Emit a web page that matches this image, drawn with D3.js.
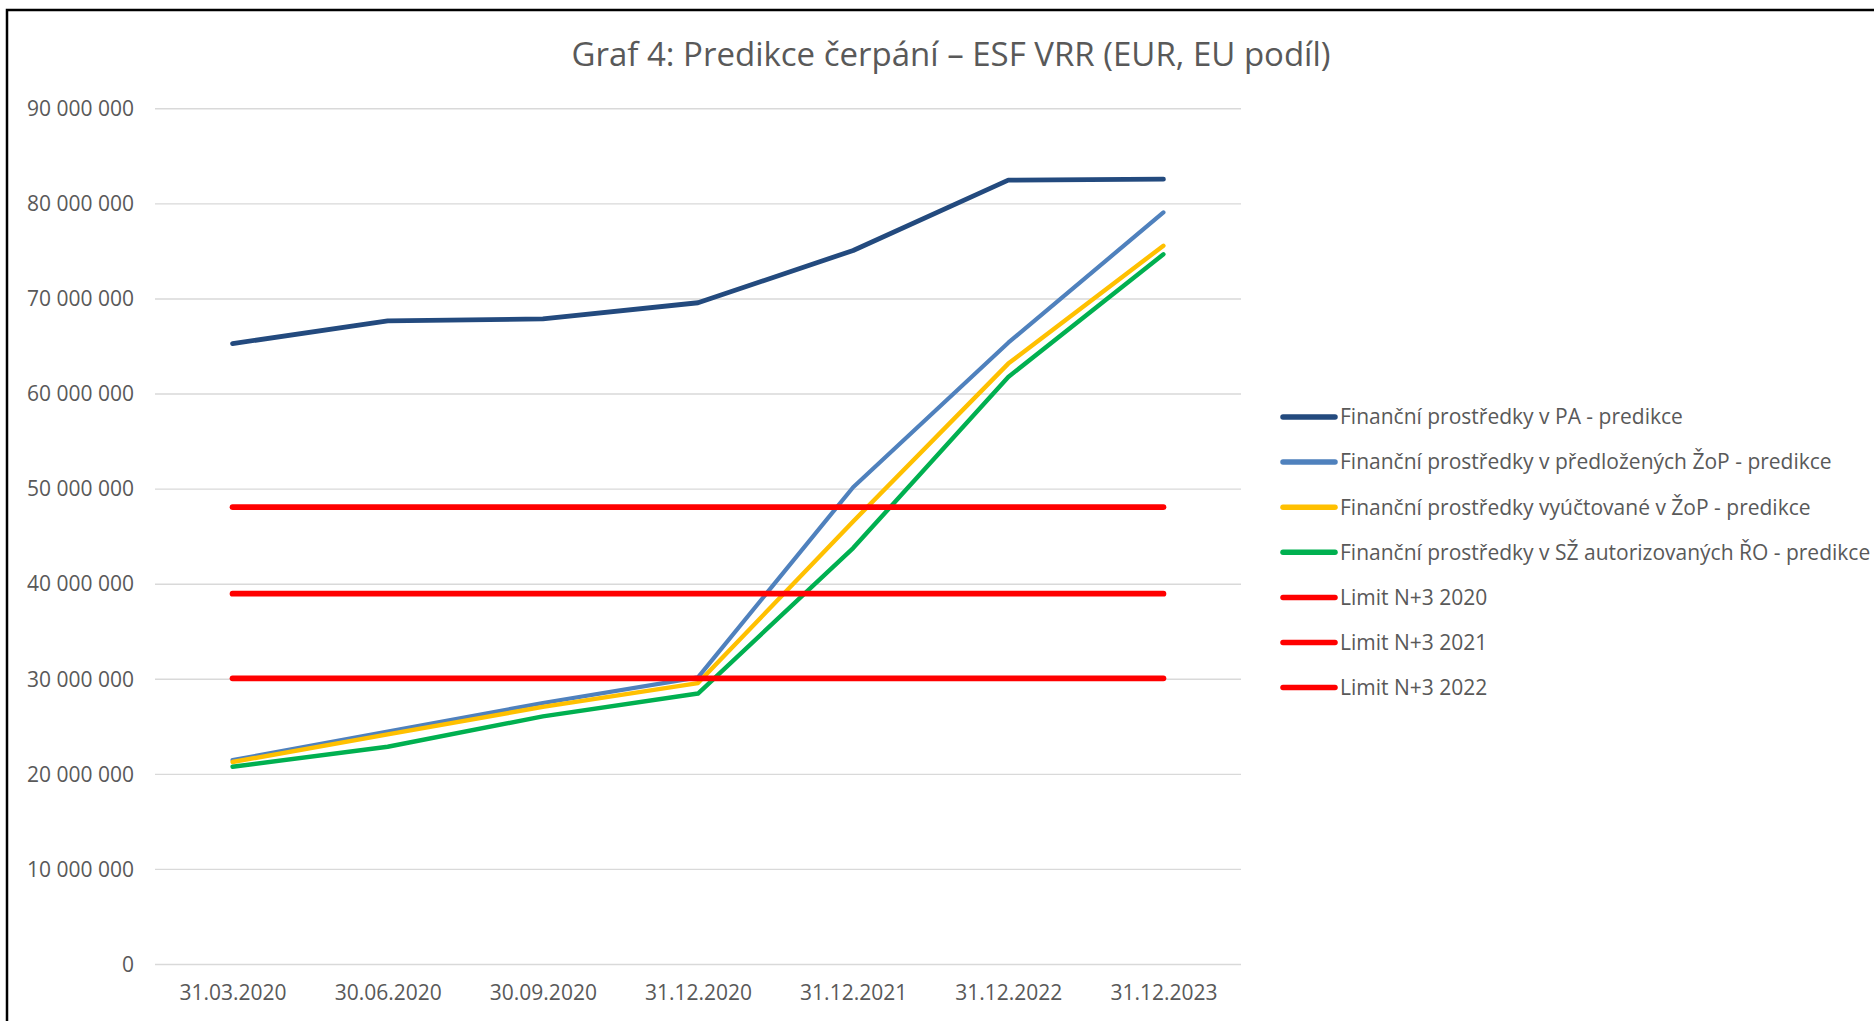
<!DOCTYPE html>
<html>
<head>
<meta charset="utf-8">
<script src="https://cdn.jsdelivr.net/npm/d3@7"></script>
<style>
  body { margin: 0; background: #fff; }
  svg { display: block; font-family: "Open Sans", "Noto Sans", sans-serif; }
</style>
</head>
<body>
<div id="visual-container"></div>
<script>
// data
const dates = ['31.03.2020', '30.06.2020', '30.09.2020', '31.12.2020', '31.12.2021', '31.12.2022', '31.12.2023']
const paValues = [65.3e6, 67.7e6, 67.9e6, 69.6e6, 75.1e6, 82.5e6, 82.6e6]
const zopValues = [21.5e6, 24.5e6, 27.5e6, 30.2e6, 50.2e6, 65.4e6, 79.1e6]
const vyuctovaneValues = [21.3e6, 24.2e6, 27.1e6, 29.6e6, 46.6e6, 63.2e6, 75.6e6]
const szValues = [20.8e6, 22.9e6, 26.1e6, 28.5e6, 43.8e6, 61.8e6, 74.7e6]
const limit2020 = [30.1e6, 30.1e6, 30.1e6, 30.1e6, 30.1e6, 30.1e6, 30.1e6]
const limit2021 = [39.0e6, 39.0e6, 39.0e6, 39.0e6, 39.0e6, 39.0e6, 39.0e6]
const limit2022 = [48.1e6, 48.1e6, 48.1e6, 48.1e6, 48.1e6, 48.1e6, 48.1e6]
const seriesNames = [
    'Finanční prostředky v PA - predikce',
    'Finanční prostředky v předložených ŽoP - predikce',
    'Finanční prostředky vyúčtované v ŽoP - predikce',
    'Finanční prostředky v SŽ autorizovaných ŘO - predikce',
    'Limit N+3 2020',
    'Limit N+3 2021',
    'Limit N+3 2022'
]
const yTicks = [0, 10e6, 20e6, 30e6, 40e6, 50e6, 60e6, 70e6, 80e6, 90e6]
const title = 'Graf 4: Predikce čerpání – ESF VRR (EUR, EU podíl)'

const colors = ['#234A7E', '#4F81BD', '#FFC000', '#00B050', '#FF0000', '#FF0000', '#FF0000']
const widths = [4.8, 4.2, 4.4, 4.4, 5.8, 5.8, 5.8]

const width = 1874
const height = 1021
const textColor = '#595959'

const series = [paValues, zopValues, vyuctovaneValues, szValues, limit2020, limit2021, limit2022]
    .map((values, i) => ({ name: seriesNames[i], color: colors[i], width: widths[i], values: values }))

const svg = d3.select('#visual-container')
            .append('svg')
            .attr('width', width)
            .attr('height', height)

svg.append('rect')
    .attr('width', width)
    .attr('height', height)
    .attr('fill', '#fff')

// frame: only top and left edges are visible
svg.append('path')
    .attr('d', `M7,${height} V10 H${width}`)
    .attr('fill', 'none')
    .attr('stroke', '#000')
    .attr('stroke-width', 2.5)

svg.append('text')
    .attr('x', 951)
    .attr('y', 66)
    .attr('text-anchor', 'middle')
    .attr('font-size', 33)
    .attr('fill', textColor)
    .text(title)

const xScale = d3.scalePoint()
                .domain(dates)
                .range([155, 1241])
                .padding(0.5)

const yScale = d3.scaleLinear()
                .domain([0, 90e6])
                .range([964.5, 108.8])

const fmt = d3.formatLocale({ decimal: ',', thousands: ' ', grouping: [3], currency: ['', ''] }).format(',.0f')

// gridlines
svg.append('g')
    .selectAll('line')
    .data(yTicks)
    .join('line')
    .attr('x1', 155)
    .attr('x2', 1241)
    .attr('y1', d => yScale(d))
    .attr('y2', d => yScale(d))
    .attr('stroke', '#d9d9d9')
    .attr('stroke-width', 1.4)

const styleAxis = g => {
    g.attr('font-family', null).attr('font-size', null)
    g.select('.domain').remove()
    g.selectAll('text')
        .attr('font-size', 21)
        .attr('fill', textColor)
}

const yAxis = d3.axisLeft(yScale)
                .tickValues(yTicks)
                .tickFormat(fmt)
                .tickSize(0)
                .tickPadding(0)

svg.append('g')
    .attr('id', 'y-axis')
    .attr('transform', 'translate(134,0)')
    .call(yAxis)
    .call(styleAxis)

const xAxis = d3.axisBottom(xScale)
                .tickSize(0)
                .tickPadding(0)

svg.append('g')
    .attr('id', 'x-axis')
    .attr('transform', 'translate(0,985)')
    .call(xAxis)
    .call(styleAxis)

const line = d3.line()
                .x((d, i) => xScale(dates[i]))
                .y(d => yScale(d))

svg.append('g')
    .selectAll('path')
    .data(series)
    .join('path')
    .attr('d', d => line(d.values))
    .attr('fill', 'none')
    .attr('stroke', d => d.color)
    .attr('stroke-width', d => d.width)
    .attr('stroke-linecap', 'round')
    .attr('stroke-linejoin', 'round')

// legend
const legend = svg.append('g')
                .selectAll('g')
                .data(series)
                .join('g')
                .attr('transform', (d, i) => `translate(1281,${417 + i * 45.1})`)

legend.append('line')
    .attr('x1', 2)
    .attr('x2', 54)
    .attr('stroke', d => d.color)
    .attr('stroke-width', 5.5)
    .attr('stroke-linecap', 'round')

legend.append('text')
    .attr('x', 59)
    .attr('dy', '0.35em')
    .attr('font-size', 21)
    .attr('fill', textColor)
    .text(d => d.name)
</script>
</body>
</html>
